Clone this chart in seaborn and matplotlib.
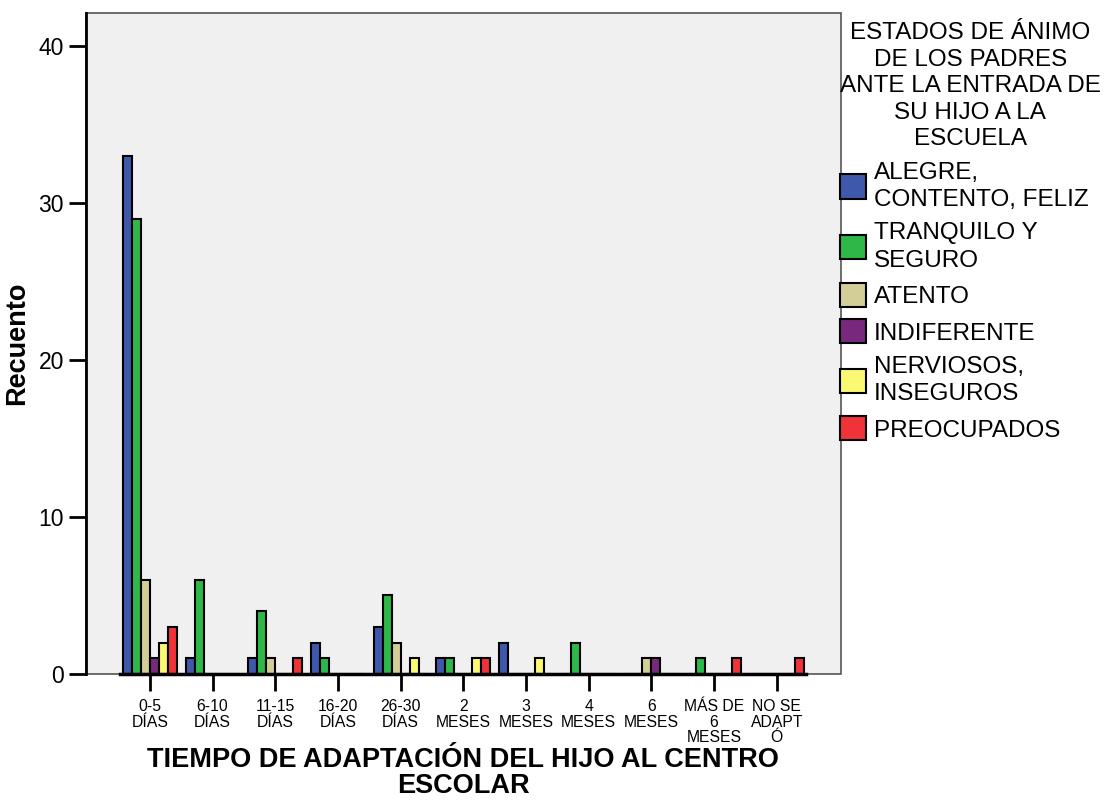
import pandas as pd
import matplotlib
matplotlib.use("Agg")
import matplotlib.pyplot as plt
from matplotlib import font_manager
import seaborn as sns

# data
tiempos = ["0-5\nDÍAS", "6-10\nDÍAS", "11-15\nDÍAS", "16-20\nDÍAS", "26-30\nDÍAS",
           "2\nMESES", "3\nMESES", "4\nMESES", "6\nMESES", "MÁS DE\n6\nMESES", "NO SE\nADAPT\nÓ"]
estados = ["ALEGRE,\nCONTENTO, FELIZ", "TRANQUILO Y\nSEGURO", "ATENTO", "INDIFERENTE",
           "NERVIOSOS,\nINSEGUROS", "PREOCUPADOS"]
alegre = [33, 1, 1, 2, 3, 1, 2, 0, 0, 0, 0]
tranquilo = [29, 6, 4, 1, 5, 1, 0, 2, 0, 1, 0]
atento = [6, 0, 1, 0, 2, 0, 0, 0, 1, 0, 0]
indiferente = [1, 0, 0, 0, 0, 0, 0, 0, 1, 0, 0]
nerviosos = [2, 0, 0, 0, 1, 1, 1, 0, 0, 0, 0]
preocupados = [3, 0, 1, 0, 0, 1, 0, 0, 0, 1, 1]
colores = ["#3E58AC", "#2EB848", "#D3CE97", "#78287D", "#FBF873", "#EF3338"]

series = [alegre, tranquilo, atento, indiferente, nerviosos, preocupados]
rows = []
for est, vals in zip(estados, series):
    for t, v in zip(tiempos, vals):
        rows.append({"tiempo": t, "estado": est, "recuento": v})
df = pd.DataFrame(rows)

sns.set_theme(style="white")
plt.rcParams["font.family"] = ["Liberation Sans", "DejaVu Sans"]
plt.rcParams["text.color"] = "black"
plt.rcParams["axes.labelcolor"] = "black"
plt.rcParams["xtick.color"] = "black"
plt.rcParams["ytick.color"] = "black"

# narrow font for the category labels if one is installed
installed = {f.name for f in font_manager.fontManager.ttflist}
if "Liberation Sans Narrow" in installed:
    tick_font, tick_size = ["Liberation Sans Narrow", "DejaVu Sans"], 12.5
else:
    tick_font, tick_size = ["Liberation Sans", "DejaVu Sans"], 11.3

fig = plt.figure(figsize=(11.12, 8), dpi=100)
ax = fig.add_axes([86 / 1112, 1 - 674 / 800, (840.7 - 86) / 1112, (674 - 13) / 800])

sns.barplot(data=df, x="tiempo", y="recuento", hue="estado", order=tiempos,
            hue_order=estados, palette=colores, width=0.86, gap=0,
            edgecolor="black", linewidth=1.5, errorbar=None, saturation=1, ax=ax)

ax.set_facecolor("#F0F0F0")
ax.patch.set_edgecolor("#555555")
ax.patch.set_linewidth(1.2)
ax.set_xlim(-1.02, 11.02)
ax.set_ylim(0, 42.1)
ax.set_yticks([0, 10, 20, 30, 40])

for s in ["top", "right"]:
    ax.spines[s].set_visible(False)
ax.spines["left"].set_color("black")
ax.spines["left"].set_linewidth(2)
ax.spines["bottom"].set_color("black")
ax.spines["bottom"].set_linewidth(2.5)
ax.spines["bottom"].set_bounds(-0.47, 10.47)

ax.tick_params(axis="y", direction="out", length=12, width=2, color="black",
               labelsize=16.5, pad=4, left=True, labelcolor="black")
ax.tick_params(axis="x", direction="out", length=12, width=2, color="black",
               labelsize=tick_size, pad=6, bottom=True, labelcolor="black")
for lab in ax.get_xticklabels():
    lab.set_fontfamily(tick_font)
    lab.set_linespacing(1.05)
    lab.set_verticalalignment("top")

ax.set_ylabel("Recuento", fontsize=19.5, fontweight="bold", labelpad=6)
ax.set_xlabel("TIEMPO DE ADAPTACIÓN DEL HIJO AL CENTRO\nESCOLAR", fontsize=19.5,
              fontweight="bold", linespacing=1.02, labelpad=1)

handles, labels = ax.get_legend_handles_labels()
ax.get_legend().remove()
leg = fig.legend(handles, labels,
                 title="ESTADOS DE ÁNIMO\nDE LOS PADRES\nANTE LA ENTRADA DE\nSU HIJO A LA\nESCUELA",
                 loc="upper left", bbox_to_anchor=(840 / 1112, 1 - 22 / 800),
                 frameon=False, fontsize=17.5, title_fontsize=17.5, borderpad=0,
                 borderaxespad=0, handlelength=1.07, handleheight=1.15,
                 handletextpad=0.33, labelspacing=0.46, alignment="left")
for t in leg.get_texts():
    t.set_linespacing(1.32)
leg.get_title().set_linespacing(1.27)
leg.get_title().set_multialignment("center")
for h in leg.legend_handles:
    h.set_edgecolor("black")
    h.set_linewidth(1.5)

fig.savefig("out.png", dpi=100)
